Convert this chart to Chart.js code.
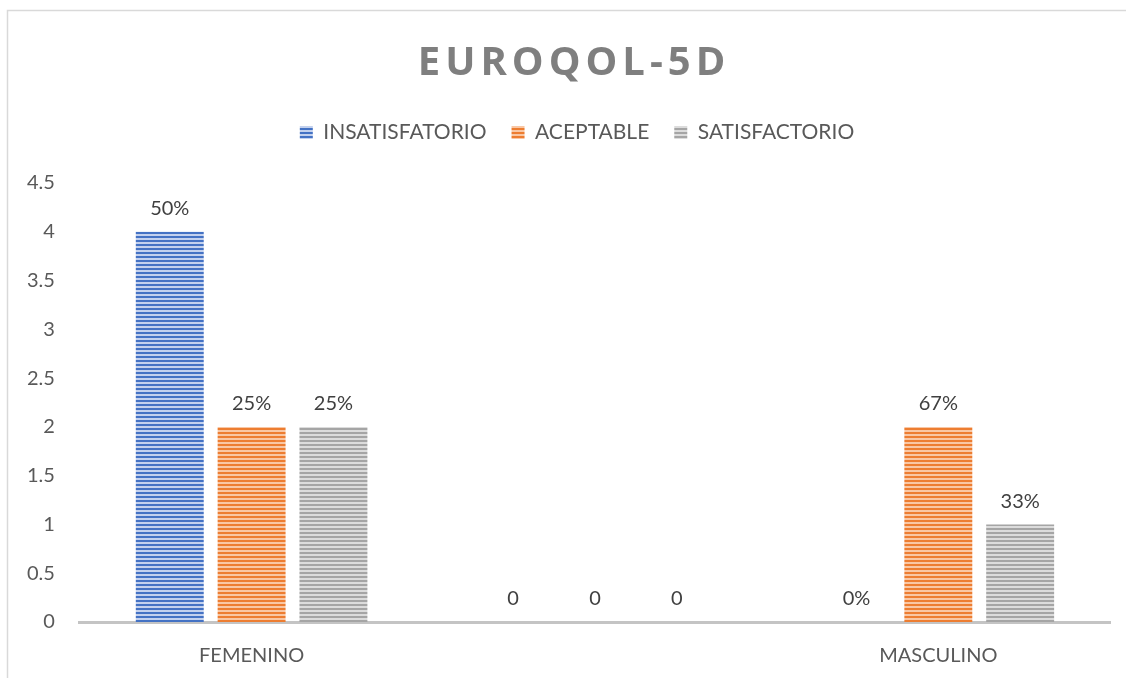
<!DOCTYPE html>
<html>
<head>
<meta charset="utf-8">
<script src="https://cdn.jsdelivr.net/npm/chart.js@4/dist/chart.umd.min.js"></script>
<style>
  html, body { margin: 0; padding: 0; background: #fff; }
  #wrap { width: 1126px; height: 678px; position: relative; }
</style>
</head>
<body>
<div id="wrap"><canvas id="euroqolChart"></canvas></div>
<script>
// EUROQOL-5D results by sex
const categories = ['FEMENINO', '', 'MASCULINO'];
const seriesNames = ['INSATISFATORIO', 'ACEPTABLE', 'SATISFACTORIO'];
const insatisfatorio = [4, 0, 0];
const aceptable = [2, 0, 2];
const satisfactorio = [2, 0, 1];
// text printed above each bar
const insatisfatorioLabels = ['50%', '0', '0%'];
const aceptableLabels = ['25%', '0', '67%'];
const satisfactorioLabels = ['25%', '0', '33%'];
const yTicks = [0, 0.5, 1, 1.5, 2, 2.5, 3, 3.5, 4, 4.5];

const FONT = 'Lato, "Open Sans", sans-serif';

// horizontal stripe fill used by the bars and legend boxes
function stripes(dark, light) {
    const c = document.createElement('canvas');
    c.width = 4;
    c.height = 4;
    const g = c.getContext('2d');
    g.fillStyle = light;
    g.fillRect(0, 0, 4, 4);
    g.fillStyle = dark;
    g.fillRect(0, 0, 4, 2);
    return g.createPattern(c, 'repeat');
}

const ctx = document.getElementById('euroqolChart');

const frame = {
    id: 'frame',
    beforeDraw(chart) {
        const c = chart.ctx;
        c.save();
        c.fillStyle = '#ffffff';
        c.fillRect(0, 0, chart.width, chart.height);
        c.strokeStyle = '#d9d9d9';
        c.lineWidth = 1.5;
        c.beginPath();
        c.moveTo(7.5, chart.height);
        c.lineTo(7.5, 10.5);
        c.lineTo(chart.width, 10.5);
        c.stroke();
        c.restore();
    }
};

// extra room under the legend, and centre it on the whole frame
const legendGap = {
    id: 'legendGap',
    beforeInit(chart) {
        const fit = chart.legend.fit;
        chart.legend.fit = function () {
            fit.call(this);
            this.height += 30;
        };
    },
    afterLayout(chart) {
        chart.legend.left += 17;
        chart.legend.right += 17;
    }
};

const titleText = {
    id: 'titleText',
    afterDraw(chart) {
        const c = chart.ctx;
        c.save();
        c.font = '700 40px "Open Sans", sans-serif';
        c.letterSpacing = '5px';
        c.fillStyle = '#7f7f7f';
        c.textAlign = 'center';
        c.textBaseline = 'middle';
        c.fillText('EUROQOL-5D', 574, 64);
        c.restore();
    }
};

const valueLabels = {
    id: 'valueLabels',
    afterDatasetsDraw(chart) {
        const c = chart.ctx;
        c.save();
        c.font = '20px ' + FONT;
        c.fillStyle = '#404040';
        c.textAlign = 'center';
        c.textBaseline = 'middle';
        chart.data.datasets.forEach((ds, i) => {
            chart.getDatasetMeta(i).data.forEach((bar, j) => {
                c.fillText(ds.valueText[j], bar.x, bar.y - 23);
            });
        });
        c.restore();
    }
};

new Chart(ctx, {
    type: 'bar',
    data: {
        labels: categories,
        datasets: [
            {
                label: seriesNames[0],
                data: insatisfatorio,
                valueText: insatisfatorioLabels,
                backgroundColor: stripes('#4472c4', '#c3d1ee')
            },
            {
                label: seriesNames[1],
                data: aceptable,
                valueText: aceptableLabels,
                backgroundColor: stripes('#ed7d31', '#f9c7a4')
            },
            {
                label: seriesNames[2],
                data: satisfactorio,
                valueText: satisfactorioLabels,
                backgroundColor: stripes('#a5a5a5', '#dcdcdc')
            }
        ]
    },
    options: {
        responsive: true,
        maintainAspectRatio: false,
        animation: false,
        categoryPercentage: 0.715,
        barPercentage: 0.83,
        layout: {
            padding: { top: 97, right: 16, bottom: -12, left: 10 }
        },
        plugins: {
            title: { display: false },
            tooltip: { enabled: false },
            legend: {
                position: 'top',
                labels: {
                    boxWidth: 13,
                    boxHeight: 13,
                    padding: 25,
                    color: '#595959',
                    font: { family: FONT, size: 21 }
                }
            }
        },
        scales: {
            x: {
                grid: { display: true, drawOnChartArea: false, drawTicks: false, color: 'transparent' },
                border: { display: true, color: '#c4c4c4', width: 3 },
                ticks: {
                    color: '#595959',
                    padding: 22,
                    font: { family: FONT, size: 20 }
                }
            },
            y: {
                min: 0,
                max: 4.5,
                afterBuildTicks(scale) {
                    scale.ticks = yTicks.map(v => ({ value: v }));
                },
                grid: { display: false },
                border: { display: false },
                ticks: {
                    color: '#595959',
                    padding: 17,
                    font: { family: FONT, size: 20 },
                    callback: v => String(v)
                }
            }
        }
    },
    plugins: [frame, legendGap, titleText, valueLabels]
});
</script>
</body>
</html>
